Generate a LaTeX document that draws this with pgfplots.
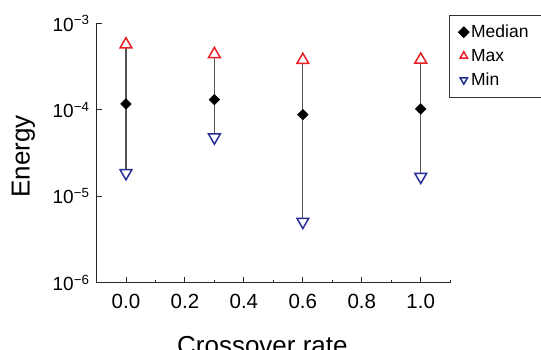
\documentclass[border=0pt]{standalone}
\usepackage{pgfplots}
\pgfplotsset{compat=1.18}
\usepackage{fontspec}
\setmainfont{Liberation Sans}
\definecolor{mxred}{RGB}{232,32,36}
\definecolor{mnblue}{RGB}{40,48,150}
\definecolor{lngray}{RGB}{85,85,85}
\pgfplotsset{
  mylegimg/.style={legend image code/.code={\path (-11pt,0pt) (4pt,0pt); \draw[##1] plot coordinates {(0pt,0pt)};}},
  mylegimgsmall/.style={legend image code/.code={\path (-11pt,0pt) (4pt,0pt); \draw[##1, mark size=4.3pt] plot coordinates {(0pt,0pt)};}}
}
\begin{document}
\begin{tikzpicture}
\begin{axis}[
  scale only axis,
  width=353.7pt, height=259.2pt,
  ymode=log,
  xmin=-0.1, xmax=1.1,
  ymin=1e-6, ymax=1e-3,
  axis x line*=bottom, axis y line*=left,
  axis line style={black!85, line width=0.9pt},
  xtick={0,0.2,0.4,0.6,0.8,1.0},
  xticklabels={0.0,0.2,0.4,0.6,0.8,1.0},
  minor xtick={0.1,0.3,0.5,0.7,0.9,1.1},
  ytick={1e-6,1e-5,1e-4,1e-3},
  yticklabels={10\textsuperscript{−6},10\textsuperscript{−5},10\textsuperscript{−4},10\textsuperscript{−3}},
  yminorticks=false,
  tick align=inside,
  tick style={black!85, line width=0.9pt},
  major tick length=5.6pt, minor tick length=2.7pt,
  xticklabel style={font=\fontsize{20.5}{24}\selectfont, yshift=-8pt},
  yticklabel style={font=\fontsize{19}{22}\selectfont, xshift=-3.5pt},
  xlabel={Crossover rate},
  ylabel={Energy},
  xlabel style={font=\fontsize{26}{30}\selectfont, at={(axis description cs:0.469,-0.2045)}, anchor=north, inner sep=0pt},
  ylabel style={font=\fontsize{26}{30}\selectfont, at={(axis description cs:-0.2403,0.487)}, anchor=north, rotate=0, inner sep=0pt},
  legend style={at={(axis description cs:0.9966,1.034)}, anchor=north west,
    draw=black!80, line width=0.8pt, font=\fontsize{17.5}{20}\selectfont,
    row sep=6pt, inner xsep=3pt, inner ysep=8pt},
  legend cell align=left,
  clip=false,
]
% vertical range lines (min to max)
\addplot[lngray, line width=1.1pt, forget plot] coordinates {(0,1.858e-5) (0,5.71e-4)};
\addplot[lngray, line width=1.1pt, forget plot] coordinates {(0.3,4.81e-5) (0.3,4.41e-4)};
\addplot[lngray, line width=1.1pt, forget plot] coordinates {(0.6,5.08e-6) (0.6,3.78e-4)};
\addplot[lngray, line width=1.1pt, forget plot] coordinates {(1.0,1.684e-5) (1.0,3.81e-4)};
% median
\addplot[only marks, mylegimg, mark=square*, mark size=3.8pt, mark options={rotate=45, fill=black, draw=black}]
  coordinates {(0,1.173e-4) (0.3,1.315e-4) (0.6,8.82e-5) (1.0,1.027e-4)};
\addlegendentry{\makebox[80pt][l]{Median}}
% max
\addplot[only marks, mylegimgsmall, mark=triangle*, mark size=6.8pt, mark options={draw=mxred, fill=white, line width=1.5pt}]
  coordinates {(0,5.71e-4) (0.3,4.41e-4) (0.6,3.78e-4) (1.0,3.81e-4)};
\addlegendentry{\makebox[80pt][l]{Max}}
% min
\addplot[only marks, mylegimgsmall, mark=triangle*, mark size=6.8pt, mark options={rotate=180, draw=mnblue, fill=white, line width=1.5pt}]
  coordinates {(0,1.858e-5) (0.3,4.81e-5) (0.6,5.08e-6) (1.0,1.684e-5)};
\addlegendentry{\makebox[80pt][l]{Min}}
\end{axis}
\pgfresetboundingbox
\useasboundingbox (-96.5pt,-67.3pt) rectangle (444.5pt,282.7pt);
\end{tikzpicture}
\end{document}
